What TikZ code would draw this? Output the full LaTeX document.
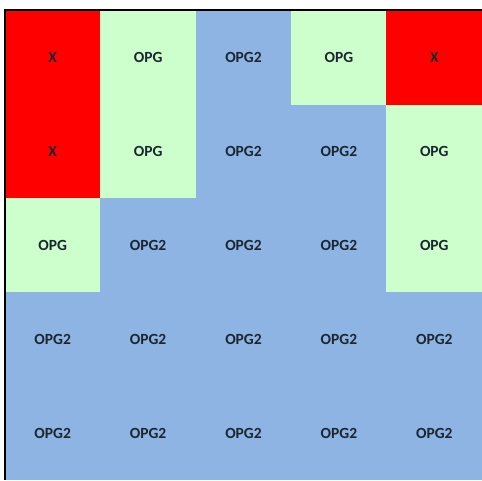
\documentclass[tikz,border=0pt]{standalone}
\usepackage{fontspec}
\setmainfont{Carlito}
\definecolor{cellred}{HTML}{FF0000}
\definecolor{cellgreen}{HTML}{CCFFCC}
\definecolor{cellblue}{HTML}{8DB4E2}
\definecolor{txt}{HTML}{1C2630}
\begin{document}
\begin{tikzpicture}[x=1pt,y=-1pt,
  cell/.style={minimum width=96pt,minimum height=94.3pt,inner sep=0pt,outer sep=0pt,
    font=\fontsize{15.5}{18}\selectfont\bfseries,text=txt},
  rx/.style={cell,fill=cellred},
  gx/.style={cell,fill=cellgreen},
  bx/.style={cell,fill=cellblue}]
\useasboundingbox (0,0) rectangle (482,480);
\fill[white] (0,0) rectangle (482,480);
\def\cw{95.4}
\def\rh{93.8}
% row 1
\node[rx] (c11) at ({5+0.5*\cw},{11+0.5*\rh}) {X};
\node[gx] (c12) at ({5+1.5*\cw},{11+0.5*\rh}) {OPG};
\node[bx] (c13) at ({5+2.5*\cw},{11+0.5*\rh}) {OPG2};
\node[gx] (c14) at ({5+3.5*\cw},{11+0.5*\rh}) {OPG};
\node[rx] (c15) at ({5+4.5*\cw},{11+0.5*\rh}) {X};
% row 2
\node[rx] (c21) at ({5+0.5*\cw},{11+1.5*\rh}) {X};
\node[gx] (c22) at ({5+1.5*\cw},{11+1.5*\rh}) {OPG};
\node[bx] (c23) at ({5+2.5*\cw},{11+1.5*\rh}) {OPG2};
\node[bx] (c24) at ({5+3.5*\cw},{11+1.5*\rh}) {OPG2};
\node[gx] (c25) at ({5+4.5*\cw},{11+1.5*\rh}) {OPG};
% row 3
\node[gx] (c31) at ({5+0.5*\cw},{11+2.5*\rh}) {OPG};
\node[bx] (c32) at ({5+1.5*\cw},{11+2.5*\rh}) {OPG2};
\node[bx] (c33) at ({5+2.5*\cw},{11+2.5*\rh}) {OPG2};
\node[bx] (c34) at ({5+3.5*\cw},{11+2.5*\rh}) {OPG2};
\node[gx] (c35) at ({5+4.5*\cw},{11+2.5*\rh}) {OPG};
% rows 4 and 5
\foreach \r in {4,5}{
  \foreach \c in {1,...,5}{
    \node[bx] (c\r\c) at ({5+(\c-0.5)*\cw},{11+(\r-0.5)*\rh}) {OPG2};
  }
}
% outer frame (top and left)
\coordinate (tl) at (5,10);
\coordinate (tr) at (482,10);
\coordinate (bl) at (5,480);
\draw[line width=2pt,black] (tr) -- (tl) -- (bl);
\end{tikzpicture}
\end{document}
